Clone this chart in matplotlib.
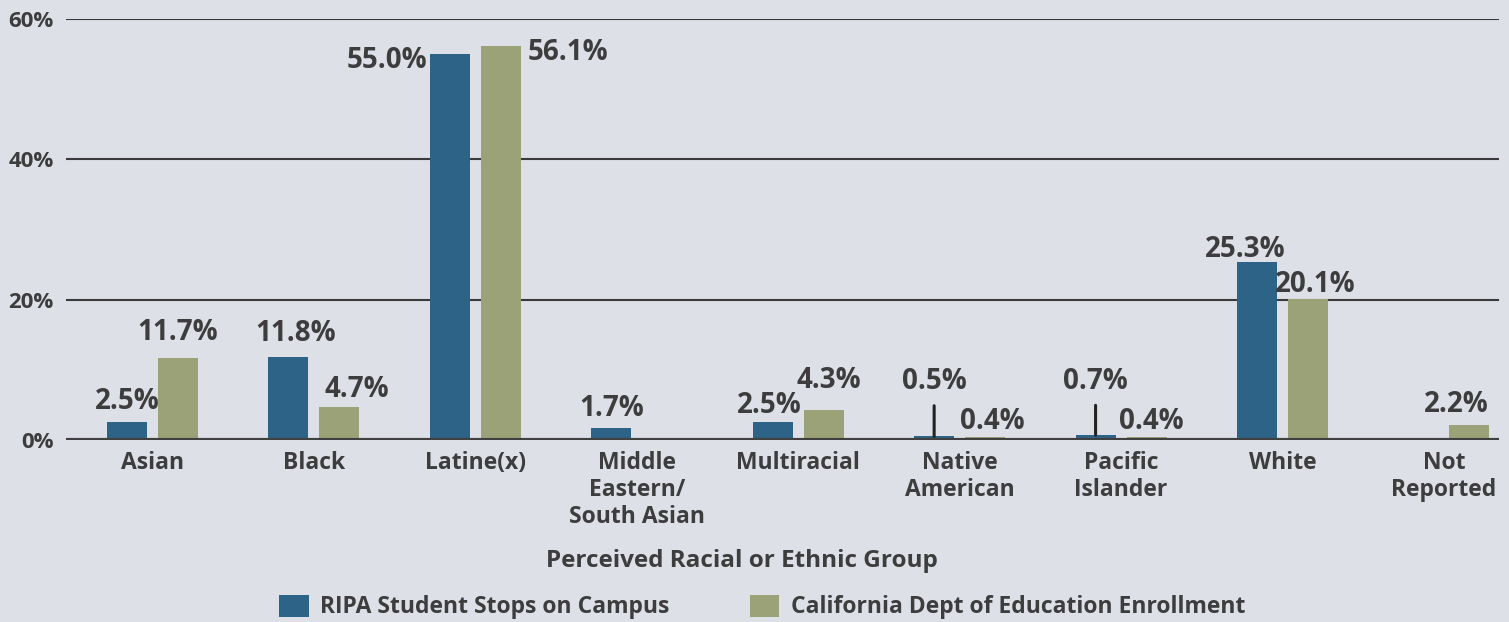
import matplotlib
matplotlib.use("Agg")
import matplotlib.pyplot as plt
from matplotlib.patches import Patch
import numpy as np

# categories and values (%)
groups = ["Asian", "Black", "Latine(x)", "Middle\nEastern/\nSouth Asian", "Multiracial",
          "Native\nAmerican", "Pacific\nIslander", "White", "Not\nReported"]
ripa_stops = [2.5, 11.8, 55.0, 1.7, 2.5, 0.5, 0.7, 25.3, None]
cde_enroll = [11.7, 4.7, 56.1, None, 4.3, 0.4, 0.4, 20.1, 2.2]
series_names = ["RIPA Student Stops on Campus", "California Dept of Education Enrollment"]
yticks = [0, 20, 40, 60]

BG = "#dde0e7"
BLUE = "#2e6388"
GREEN = "#9ba277"
TXT = "#3d3d3d"

plt.rcParams['font.family'] = ['Open Sans', 'DejaVu Sans']
plt.rcParams['font.weight'] = 'bold'

fig = plt.figure(figsize=(15.09, 6.22), dpi=100, facecolor=BG)
ax = fig.add_axes([0.0437, 0.2926, 0.950, 0.6769], facecolor=BG)

x = np.arange(len(groups))
w = 0.248
off = 0.158

blue_vals = [v if v is not None else 0 for v in ripa_stops]
green_vals = [v if v is not None else 0 for v in cde_enroll]
ax.bar(x - off, blue_vals, w, color=BLUE, zorder=3)
ax.bar(x + off, green_vals, w, color=GREEN, zorder=3)

ax.set_ylim(0, 60)
ax.set_xlim(-0.536, 8.344)
for s in ax.spines.values():
    s.set_visible(False)
for t in yticks[1:]:
    ax.axhline(t, color="#3a3a3a", lw=1.5, zorder=1)
ax.axhline(0, color="#404040", lw=3, zorder=4)

ax.set_yticks(yticks)
ax.set_yticklabels([f"{t}%" for t in yticks], fontsize=16, color=TXT, fontweight='bold')
ax.set_xticks(x)
ax.set_xticklabels(groups, fontsize=16.5, color=TXT, fontweight='bold', linespacing=1.15, va='top')
ax.tick_params(axis='y', length=0, pad=9)
ax.tick_params(axis='x', length=0, pad=8)

# label offsets in pixels: (dx, dy, ha) from top of each bar
blue_off = [(0, 21, 'center'), (7, 24, 'center'), (-23, -6, 'right'), (0, 20, 'center'),
            (-3, 17, 'center'), (0, 55, 'center'), (0, 54, 'center'), (-12, 13, 'center'), None]
green_off = [(0, 25, 'center'), (17, 18, 'center'), (27, -6, 'left'), None,
             (5, 29, 'center'), (7, 16, 'center'), (5, 16, 'center'), (7, 14, 'center'), (-13, 20, 'center')]
leader = [False, False, False, False, False, True, True, False, False]

for i, (vals, offs, dx_bar) in enumerate([(ripa_stops, blue_off, -off), (cde_enroll, green_off, off)]):
    for j, v in enumerate(vals):
        if v is None:
            continue
        dx, dy, ha = offs[j]
        arrow = None
        if i == 0 and leader[j]:
            arrow = dict(arrowstyle='-', color="#222222", lw=2.2, shrinkA=5, shrinkB=0)
        ax.annotate(f"{v:.1f}%", xy=(j + dx_bar, v), xytext=(dx, dy),
                    textcoords='offset pixels', ha=ha, va='center',
                    fontsize=20, fontweight='bold', color=TXT,
                    arrowprops=arrow, zorder=5)

fig.text(742 / 1509, 1 - 561 / 622, "Perceived Racial or Ethnic Group", ha='center', va='center',
         fontsize=17.5, fontweight='bold', color=TXT)

handles = [Patch(facecolor=BLUE), Patch(facecolor=GREEN)]
fig.legend(handles, series_names, loc='center', bbox_to_anchor=(762 / 1509, 1 - 607 / 622),
           ncol=2, frameon=False, handlelength=1.3, handleheight=1.1, handletextpad=0.5,
           columnspacing=3.5, prop=dict(family=['Open Sans', 'DejaVu Sans'], weight='bold', size=16.5),
           labelcolor=TXT)

fig.savefig("out.png", dpi=100, facecolor=BG)
